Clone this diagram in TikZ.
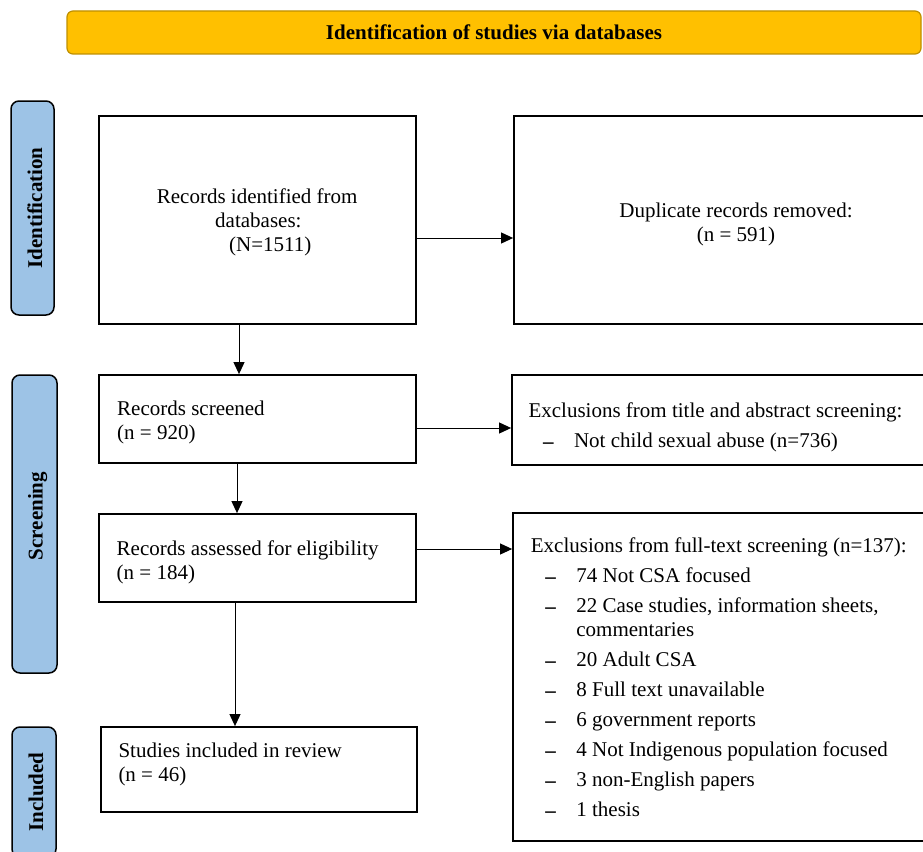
\documentclass[tikz,border=0pt]{standalone}
\usepackage{fontspec}
\setmainfont{Liberation Serif}
\usetikzlibrary{arrows.meta}
\definecolor{gold}{HTML}{FFC000}
\definecolor{golddark}{HTML}{BF9000}
\definecolor{sideblue}{HTML}{9DC3E6}
\newcommand{\fs}{\fontsize{21}{24}\selectfont}
\newcommand{\fl}{\rule{0pt}{16pt}}
\newcommand{\dsh}{\hspace*{14.5pt}\makebox[31pt][l]{\raisebox{-1pt}{\textbf{–}}}}
\begin{document}
\begin{tikzpicture}[x=1pt,y=-1pt,
  banner/.style={draw=golddark, fill=gold, rounded corners=6pt, line width=1.2pt, inner sep=0pt, font=\fs\bfseries},
  side/.style={draw, fill=sideblue, rounded corners=8pt, line width=1.5pt, inner sep=0pt},
  sidetxt/.style={rotate=90, anchor=base, inner sep=0pt, font=\fs\bfseries},
  box/.style={draw, line width=1.8pt, inner sep=0pt},
  txt/.style={anchor=north west, inner sep=0pt, align=left, font=\fs},
  ctxt/.style={anchor=north, inner sep=0pt, align=center, font=\fs},
  arr/.style={-{Triangle[length=12pt,width=11pt]}, line width=1pt}]
\clip (0,0) rectangle (923,851);
\fill[white] (0,0) rectangle (923,851);

% banner
\node[banner, minimum width=854pt, minimum height=43pt] (ban) at (494,32.5) {Identification of studies via databases};

% side labels
\node[side, minimum width=43pt, minimum height=214pt] (s1) at (32.5,208) {};
\node[sidetxt] (s1t) at (42,208) {Identification};
\node[side, minimum width=45pt, minimum height=298pt] (s2) at (34.5,524) {};
\node[sidetxt] (s2t) at (42.5,516) {Screening};
\node[side, minimum width=44pt, minimum height=130pt] (s3) at (34,792) {};
\node[sidetxt] (s3t) at (43,792) {Included};

% boxes
\node[box, minimum width=317pt, minimum height=208pt] (A) at (257.5,220) {};
\node[box, minimum width=416pt, minimum height=208pt] (B) at (722,220) {};
\node[box, minimum width=317pt, minimum height=88pt] (C) at (257.5,419) {};
\node[box, minimum width=418pt, minimum height=90pt] (D) at (721,420) {};
\node[box, minimum width=317pt, minimum height=88pt] (E) at (257.5,558) {};
\node[box, minimum width=417pt, minimum height=328pt] (F) at (721.5,677) {};
\node[box, minimum width=316pt, minimum height=85pt] (G) at (259,769.5) {};

% texts
\node[txt] (At) at (156.7,187) {\fl Records identified from\\\hspace*{58.3pt}databases:\\\hspace*{72.3pt}(N=1511)};
\node[ctxt] (Bt) at (736,201) {\fl Duplicate records removed:\\(n = 591)};
\node[txt] (Ct) at (117,399) {\fl Records screened\\(n = 920)};
\node[txt] (Dt) at (528.3,401) {\fl Exclusions from title and abstract screening:\\[6pt]\dsh Not child sexual abuse (n=736)};
\node[txt] (Et) at (116.5,539) {\fl Records assessed for eligibility\\(n = 184)};
\node[txt] (Ft) at (530.7,536) {\fl Exclusions from full-text screening (n=137):\\[6pt]
\dsh 74 Not CSA focused\\[6pt]
\dsh 22 Case studies, information sheets,\\
\hspace*{45.5pt}commentaries\\[6pt]
\dsh 20 Adult CSA\\[6pt]
\dsh 8 Full text unavailable\\[6pt]
\dsh 6 government reports\\[6pt]
\dsh 4 Not Indigenous population focused\\[6pt]
\dsh 3 non-English papers\\[6pt]
\dsh 1 thesis};
\node[txt] (Gt) at (118.3,741) {\fl Studies included in review\\(n = 46)};

% connectors
\draw[arr] ([yshift=-18pt]A.east) -- ([yshift=-18pt]A.east -| B.west);
\draw[arr] ([xshift=-18.5pt]A.south) -- ([xshift=-18.5pt]A.south |- C.north);
\draw[arr] ([yshift=-9pt]C.east) -- ([yshift=-9pt]C.east -| D.west);
\draw[arr] ([xshift=-20.5pt]C.south) -- ([xshift=-20.5pt]C.south |- E.north);
\draw[arr] ([yshift=9pt]E.east) -- ([yshift=9pt]E.east -| F.west);
\draw[arr] ([xshift=-22.5pt]E.south) -- ([xshift=-22.5pt]E.south |- G.north);
\end{tikzpicture}
\end{document}
